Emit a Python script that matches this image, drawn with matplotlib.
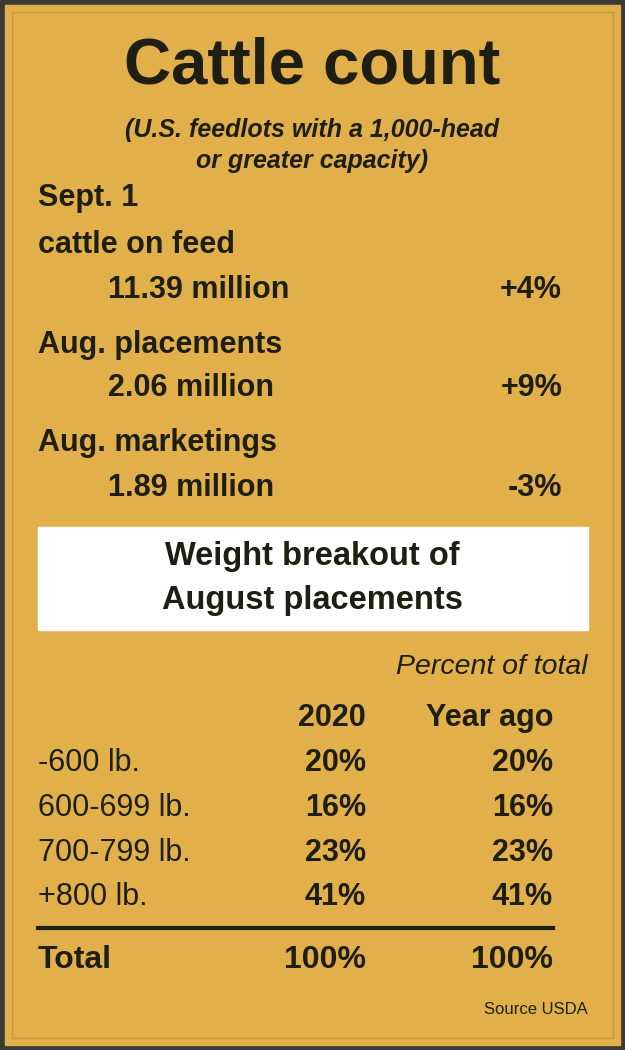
import matplotlib
matplotlib.use("Agg")
import matplotlib.pyplot as plt
from matplotlib.patches import Rectangle

# Data
summary_labels = ["Sept. 1\ncattle on feed", "Aug. placements", "Aug. marketings"]
summary_values = ["11.39 million", "2.06 million", "1.89 million"]
summary_changes = ["+4%", "+9%", "-3%"]
weight_classes = ["-600 lb.", "600-699 lb.", "700-799 lb.", "+800 lb."]
pct_2020 = [20, 16, 23, 41]
pct_year_ago = [20, 16, 23, 41]
columns = ["2020", "Year ago"]

W, H = 625, 1050
fig = plt.figure(figsize=(6.25, 10.5), dpi=100)
ax = fig.add_axes([0, 0, 1, 1])
ax.set_xlim(0, W)
ax.set_ylim(H, 0)
ax.axis("off")

GOLD = "#E2B04B"
DARK = "#1E1E12"
FN = "Liberation Sans"

ax.add_patch(Rectangle((0, 0), W, H, color="#3a3a36"))
ax.add_patch(Rectangle((5, 5), W - 10, H - 10, color=GOLD))
ax.add_patch(Rectangle((12, 12), W - 24, H - 24, fill=False, ec="#c9973a", lw=1))

def t(x, y, s, size, ha="left", weight="bold", style="normal", color=DARK):
    ax.text(x, y, s, fontsize=size, ha=ha, va="center", fontweight=weight,
            fontstyle=style, color=color, family=FN)

t(312, 66, "Cattle count", 47, ha="center")
t(312, 130, "(U.S. feedlots with a 1,000-head", 18, ha="center", style="italic")
t(312, 161, "or greater capacity)", 18, ha="center", style="italic")

label_y = [(198, 245), (345,), (443,)]
value_y = [290, 388, 488]
for lab, ys, v, vy, c in zip(summary_labels, label_y, summary_values, value_y, summary_changes):
    for line, y in zip(lab.split("\n"), ys):
        t(38, y, line, 22)
    t(108, vy, v, 22)
    t(562, vy, c, 22, ha="right")

ax.add_patch(Rectangle((38, 527), 550, 103, color="white"))
t(312, 557, "Weight breakout of", 23.5, ha="center")
t(312, 600, "August placements", 23.5, ha="center")

t(588, 667, "Percent of total", 20.5, ha="right", weight="normal", style="italic")
t(366, 718, columns[0], 22, ha="right")
t(553, 718, columns[1], 22, ha="right")

row_y = [763, 808, 853, 897]
for y, c, a, b in zip(row_y, weight_classes, pct_2020, pct_year_ago):
    t(38, y, c, 22, weight="normal")
    t(366, y, f"{a}%", 22, ha="right")
    t(553, y, f"{b}%", 22, ha="right")

ax.plot([38, 553], [928, 928], color=DARK, lw=3)
t(38, 960, "Total", 23)
t(366, 960, f"{sum(pct_2020)}%", 23, ha="right")
t(553, 960, f"{sum(pct_year_ago)}%", 23, ha="right")
t(588, 1010, "Source USDA", 12, ha="right", weight="normal")

fig.savefig("out.png", dpi=100)
